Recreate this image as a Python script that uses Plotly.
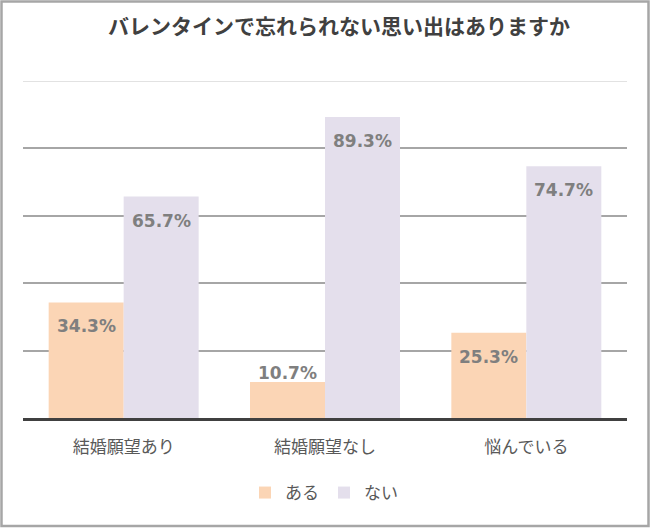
import plotly.graph_objects as go

categories = ["結婚願望あり", "結婚願望なし", "悩んでいる"]
aru = [34.3, 10.7, 25.3]
nai = [65.7, 89.3, 74.7]
series_names = ["ある", "ない"]
title_text = "バレンタインで忘れられない思い出はありますか"

W, H = 650, 528
ML, MR, MT, MB = 23, 23, 81, 110
PW, PH = W - ML - MR, H - MT - MB

c_aru = "#FBD5B5"
c_nai = "#E4DFEC"
jp = "Noto Sans CJK JP"
num_font = "DejaVu Sans"

fig = go.Figure()
fig.add_trace(go.Bar(x=categories, y=aru, name=series_names[0], marker_color=c_aru,
                     marker_line_width=0, hoverinfo="skip"))
fig.add_trace(go.Bar(x=categories, y=nai, name=series_names[1], marker_color=c_nai,
                     marker_line_width=0, hoverinfo="skip"))

bargap = 0.255
bar_px = PW / len(categories) * (1 - bargap) / 2
annotations = []
for vals, sign in ((aru, -1), (nai, 1)):
    for cat, v in zip(categories, vals):
        inside = v > 15
        annotations.append(dict(
            x=cat, y=v, xref="x", yref="y", text=f"{v:.1f}%", showarrow=False,
            xshift=sign * bar_px / 2, yshift=-24 if inside else 9, yanchor="middle",
            font=dict(family=num_font, size=17, color="#7F7F7F", weight=700)))

def px_x(p):
    return (p - ML) / PW

def px_y(p):
    return (H - MB - p) / PH

shapes = [
    dict(type="line", xref="paper", yref="y", x0=0, x1=1, y0=100, y1=100,
         line=dict(color="#D9D9D9", width=1.5), layer="below"),
    dict(type="rect", xref="paper", yref="paper", x0=px_x(1.5), x1=px_x(648.5),
         y0=px_y(526), y1=px_y(1.5), line=dict(color="#A6A6A6", width=2.5)),
]

fig.update_layout(
    width=W, height=H,
    margin=dict(l=ML, r=MR, t=MT, b=MB, autoexpand=False),
    paper_bgcolor="white", plot_bgcolor="white",
    barmode="group", bargap=bargap, bargroupgap=0,
    title=dict(text=title_text, x=339 / W, xref="container", xanchor="center",
               y=1 - 27 / H, yref="container", yanchor="middle",
               font=dict(family=jp, size=21, color="#404040", weight=700)),
    legend=dict(orientation="h", x=px_x(324), xanchor="center",
                y=px_y(493), yanchor="middle",
                font=dict(family=jp, size=17, color="#595959")),
    annotations=annotations,
    shapes=shapes,
    showlegend=True,
)
fig.update_yaxes(range=[0, 100], tickvals=[0, 20, 40, 60, 80], showticklabels=False,
                 gridcolor="#A6A6A6", gridwidth=1.5, zeroline=False, showline=False,
                 fixedrange=True)
fig.update_xaxes(showline=True, linecolor="#404040", linewidth=2.5,
                 tickfont=dict(family=jp, size=17, color="#595959"), tickangle=0,
                 ticks="", ticklabelstandoff=12, fixedrange=True)

fig.write_html("out.html", config={"displayModeBar": False},
               post_script="document.body.style.margin='0';")
